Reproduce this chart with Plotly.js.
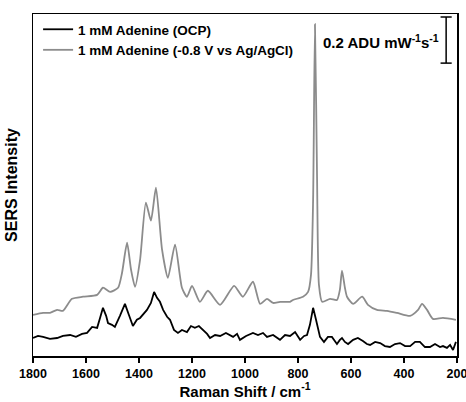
<!DOCTYPE html>
<html>
<head>
<meta charset="utf-8">
<script src="https://cdn.plot.ly/plotly-3.0.1.min.js"></script>
<style>html,body{margin:0;padding:0;background:#fff;}#chart{width:466px;height:402px;}</style>
</head>
<body>
<div id="chart"></div>
<script>
// Raman shift (cm^-1) and SERS intensity (ADU mW^-1 s^-1, offset)
const grayShift = [1800,1762,1736,1709,1687,1653,1611,1558,1536,1509,1479,1464,1445,1430,1415,1396,1374,1355,1336,1313,1291,1264,1238,1219,1200,1170,1140,1094,1041,1008,970,943,917,894,868,830,819,781,762,751,743,736,728,721,709,679,653,642,634,623,615,592,558,536,502,464,426,377,347,332,313,291,253,204];
const grayInt = [0.178,0.187,0.187,0.200,0.196,0.248,0.257,0.265,0.296,0.278,0.296,0.361,0.491,0.374,0.300,0.417,0.665,0.587,0.730,0.461,0.339,0.483,0.296,0.257,0.304,0.235,0.283,0.222,0.304,0.257,0.322,0.226,0.248,0.230,0.235,0.235,0.243,0.257,0.278,0.352,0.678,1.439,0.765,0.309,0.235,0.248,0.243,0.287,0.370,0.296,0.257,0.226,0.257,0.222,0.200,0.196,0.187,0.174,0.200,0.226,0.200,0.161,0.165,0.157];

const blackShift = [1800,1781,1762,1736,1709,1687,1660,1638,1615,1596,1577,1558,1547,1536,1524,1517,1502,1491,1472,1453,1438,1423,1408,1396,1370,1355,1343,1332,1321,1309,1294,1283,1268,1253,1238,1219,1204,1189,1174,1158,1143,1132,1113,1094,1072,1045,1030,1019,996,970,951,932,917,894,868,849,830,811,792,777,766,755,743,732,717,702,687,672,660,653,642,634,623,611,592,574,555,540,528,509,490,472,453,434,415,396,377,358,340,321,302,283,264,253,238,226,215,204];
const blackInt = [0.078,0.087,0.083,0.074,0.078,0.087,0.091,0.083,0.096,0.100,0.126,0.122,0.165,0.209,0.174,0.143,0.135,0.126,0.174,0.226,0.178,0.130,0.157,0.165,0.200,0.230,0.278,0.252,0.235,0.200,0.170,0.157,0.113,0.100,0.113,0.104,0.130,0.122,0.130,0.113,0.096,0.078,0.091,0.087,0.100,0.083,0.096,0.070,0.087,0.100,0.091,0.100,0.083,0.091,0.070,0.091,0.087,0.104,0.070,0.087,0.091,0.135,0.209,0.157,0.083,0.061,0.083,0.083,0.065,0.052,0.070,0.078,0.061,0.052,0.070,0.078,0.065,0.052,0.048,0.061,0.056,0.043,0.039,0.052,0.056,0.043,0.043,0.061,0.061,0.039,0.039,0.052,0.039,0.043,0.035,0.048,0.026,0.061];

const xTicks = [1800,1600,1400,1200,1000,800,600,400,200];
const seriesNames = ['1 mM Adenine (OCP)', '1 mM Adenine (-0.8 V vs Ag/AgCl)'];
const scaleBarValue = 0.2;

const font = 'Arial, "Liberation Sans", sans-serif';

const traces = [
  {x: blackShift, y: blackInt, type: 'scatter', mode: 'lines', name: seriesNames[0],
   line: {color: '#000000', width: 1.8}},
  {x: grayShift, y: grayInt, type: 'scatter', mode: 'lines', name: seriesNames[1],
   line: {color: '#8c8c8c', width: 1.8, shape: 'spline', smoothing: 0.6}}
];

const barX = 241, barTop = 1.470, barBot = barTop - scaleBarValue;

const layout = {
  width: 466, height: 402,
  margin: {l: 33, r: 9, t: 14, b: 46},
  paper_bgcolor: '#ffffff', plot_bgcolor: '#ffffff',
  font: {family: font, color: '#000', size: 12},
  showlegend: true,
  legend: {x: 0.012, y: 1.0, xanchor: 'left', yanchor: 'top', bgcolor: 'rgba(0,0,0,0)',
           font: {family: font, size: 13.5, color: '#000', weight: 'bold'}, tracegroupgap: 0},
  xaxis: {
    range: [1800, 200], tickvals: xTicks, ticktext: xTicks.map(String),
    ticks: 'outside', ticklen: 5, tickwidth: 1.5, tickcolor: '#000',
    ticklabeloverflow: 'allow',
    showline: true, linecolor: '#000', linewidth: 1.5, mirror: true,
    showgrid: false, zeroline: false,
    tickfont: {family: font, size: 12.5, weight: 'bold'},
    title: {text: 'Raman Shift / cm<sup>-1</sup>', font: {family: font, size: 15, weight: 'bold'}, standoff: 6}
  },
  yaxis: {
    range: [0, 1.483], showticklabels: false, ticks: '',
    showline: true, linecolor: '#000', linewidth: 1.5, mirror: true,
    showgrid: false, zeroline: false,
    title: {text: 'SERS Intensity', font: {family: font, size: 16, weight: 'bold'}, standoff: 10}
  },
  shapes: [
    {type: 'line', xref: 'x', yref: 'y', x0: barX, x1: barX, y0: barBot, y1: barTop, line: {color: '#000', width: 1.5}},
    {type: 'line', xref: 'x', yref: 'y', x0: 262, x1: 220, y0: barTop, y1: barTop, line: {color: '#000', width: 1.5}},
    {type: 'line', xref: 'x', yref: 'y', x0: 262, x1: 220, y0: barBot, y1: barBot, line: {color: '#000', width: 1.5}}
  ],
  annotations: [
    {x: 262, y: (barTop + barBot) / 2 - 0.005, xref: 'x', yref: 'y', xanchor: 'right', yanchor: 'middle',
     showarrow: false, text: '0.2 ADU mW<sup>-1</sup>s<sup>-1</sup>',
     font: {family: font, size: 15, weight: 'bold', color: '#000'}}
  ]
};

Plotly.newPlot('chart', traces, layout, {displayModeBar: false, staticPlot: true});
</script>
</body>
</html>
